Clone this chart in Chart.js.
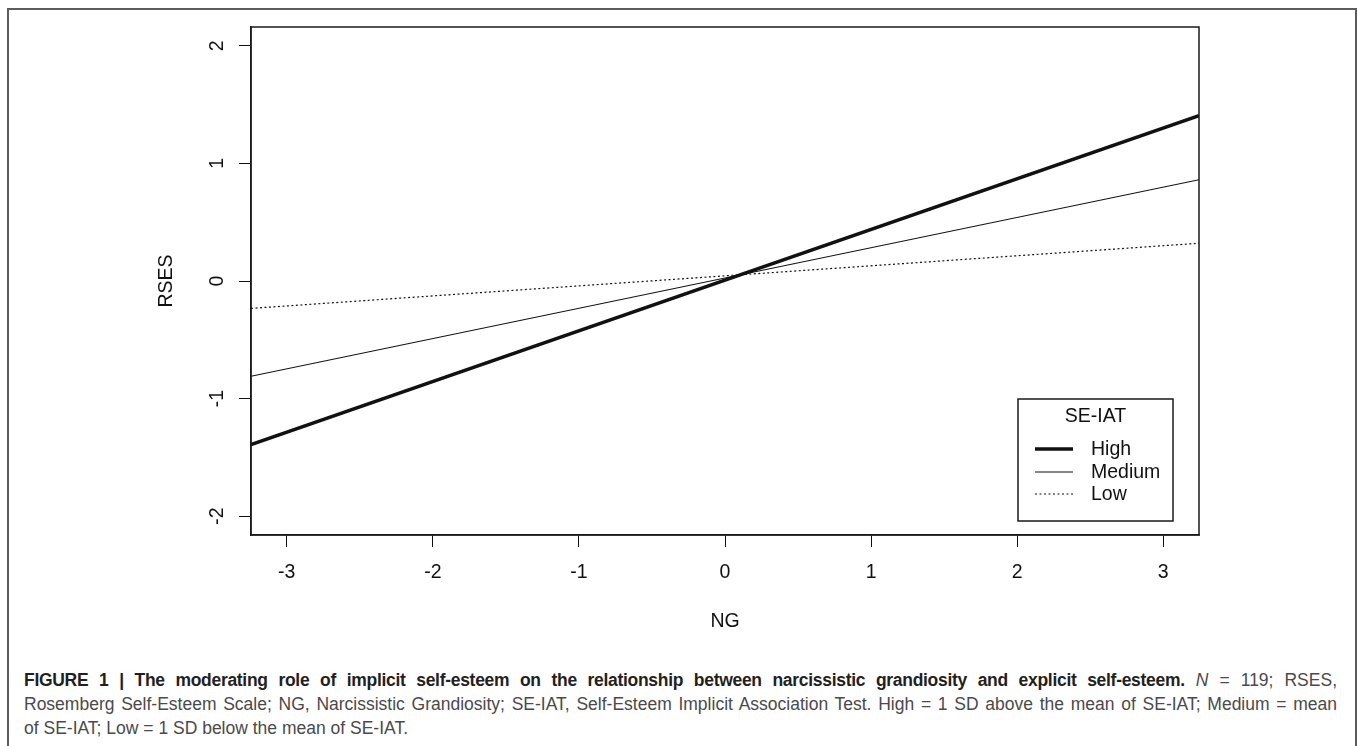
<!DOCTYPE html>
<html>
<head>
<meta charset="utf-8">
<script src="https://cdn.jsdelivr.net/npm/chart.js@4.4.1/dist/chart.umd.min.js"></script>
<style>
  html, body { margin: 0; padding: 0; background: #fff; width: 1358px; height: 746px; overflow: hidden; position: relative; }
  #frame { position: absolute; left: 7px; top: 8px; width: 1346px; height: 800px; border: 2px solid #5c5c5c; border-bottom: none; }
  #chart { position: absolute; left: 0; top: 0; }
  #caption { position: absolute; left: 24px; top: 668px; width: 1313px; font-family: "Liberation Sans", Arial, sans-serif; font-size: 17.5px; line-height: 24px; color: #4a4a4a; }
  #caption div { white-space: nowrap; text-align: justify; text-align-last: justify; }
  #caption div.last { text-align-last: left; }
  #caption b { color: #231f20; letter-spacing: -0.3px; }
</style>
</head>
<body>
<div id="frame"></div>
<canvas id="chart" width="1358" height="650"></canvas>
<div id="caption">
  <div><b>FIGURE 1 | The moderating role of implicit self-esteem on the relationship between narcissistic grandiosity and explicit self-esteem.</b> <i>N</i> = 119; RSES,</div>
  <div>Rosemberg Self-Esteem Scale; NG, Narcissistic Grandiosity; SE-IAT, Self-Esteem Implicit Association Test. High = 1 SD above the mean of SE-IAT; Medium = mean</div>
  <div class="last">of SE-IAT; Low = 1 SD below the mean of SE-IAT.</div>
</div>
<script>
// simple slopes, read at the two edges of the plot
const ngRange = [-3.245, 3.245];
const highRses = [-1.392, 1.407];
const mediumRses = [-0.81, 0.861];
const lowRses = [-0.233, 0.321];
const seriesNames = ["High", "Medium", "Low"];
const xTicks = [-3, -2, -1, 0, 1, 2, 3];
const yTicks = [-2, -1, 0, 1, 2];
const yRange = [-2.16, 2.16];

const FONT = "'Liberation Sans', Arial, sans-serif";
const INK = "#111";

function toPoints (ys) {
  return ngRange.map((x, i) => ({ x, y: ys[i] }));
}

// full box round the plot, like R's bty = "o"
const plotBox = {
  id: "plotBox",
  afterDatasetsDraw (chart) {
    const { ctx, chartArea: a } = chart;
    ctx.save();
    ctx.strokeStyle = "#1a1a1a";
    ctx.lineWidth = 1.5;
    ctx.strokeRect(a.left, a.top, a.right - a.left, a.bottom - a.top);
    ctx.restore();
  }
};

// boxed legend with a title, bottom right of the plot
const boxLegend = {
  id: "boxLegend",
  afterDraw (chart) {
    const { ctx, chartArea: a } = chart;
    const w = 155;
    const h = 122;
    const left = a.right - 26 - w;
    const top = a.bottom - 14 - h;
    ctx.save();
    ctx.fillStyle = "#fff";
    ctx.fillRect(left, top, w, h);
    ctx.strokeStyle = "#1a1a1a";
    ctx.lineWidth = 1.5;
    ctx.strokeRect(left, top, w, h);

    ctx.fillStyle = INK;
    ctx.font = "19.5px " + FONT;
    ctx.textBaseline = "middle";
    ctx.textAlign = "center";
    ctx.fillText("SE-IAT", left + w / 2, top + 18);

    const rows = [50, 73, 95];
    ctx.textAlign = "left";
    chart.data.datasets.forEach((ds, i) => {
      const y = top + rows[i];
      ctx.beginPath();
      ctx.strokeStyle = ds.borderColor;
      ctx.lineWidth = ds.borderWidth;
      ctx.setLineDash(ds.borderDash || []);
      ctx.moveTo(left + 17, y);
      ctx.lineTo(left + 55, y);
      ctx.stroke();
      ctx.setLineDash([]);
      ctx.fillText(ds.label, left + 73, y + 1);
    });
    ctx.restore();
  }
};

new Chart(document.getElementById("chart"), {
  type: "line",
  data: {
    datasets: [
      { label: seriesNames[0], data: toPoints(highRses), borderColor: INK, borderWidth: 3.5 },
      { label: seriesNames[1], data: toPoints(mediumRses), borderColor: INK, borderWidth: 1.1 },
      { label: seriesNames[2], data: toPoints(lowRses), borderColor: INK, borderWidth: 1.2, borderDash: [2, 2.5] }
    ]
  },
  options: {
    responsive: false,
    animation: false,
    events: [],
    elements: { point: { radius: 0 }, line: { tension: 0 } },
    layout: { padding: { left: 0, top: 27, right: 159, bottom: 0 } },
    plugins: {
      legend: { display: false },
      tooltip: { enabled: false }
    },
    scales: {
      x: {
        type: "linear",
        min: ngRange[0],
        max: ngRange[1],
        afterBuildTicks: (scale) => { scale.ticks = xTicks.map((v) => ({ value: v })); },
        afterFit: (scale) => { scale.height = 115; },
        grid: { drawOnChartArea: false, drawTicks: true, tickLength: 12, color: INK, lineWidth: 1 },
        border: { display: true, color: "#1a1a1a", width: 1.5 },
        ticks: { color: INK, font: { family: FONT, size: 19.5 }, padding: 14, maxRotation: 0, autoSkip: false },
        title: { display: true, text: "NG", color: INK, font: { family: FONT, size: 19.5 }, padding: { top: 0, bottom: 17 } }
      },
      y: {
        type: "linear",
        min: yRange[0],
        max: yRange[1],
        afterBuildTicks: (scale) => { scale.ticks = yTicks.map((v) => ({ value: v })); },
        afterFit: (scale) => { scale.width = 251; },
        grid: { drawOnChartArea: false, drawTicks: true, tickLength: 12, color: INK, lineWidth: 1 },
        border: { display: true, color: "#1a1a1a", width: 1.5 },
        ticks: { color: INK, font: { family: FONT, size: 19.5 }, padding: 13, minRotation: 90, maxRotation: 90, crossAlign: "center", autoSkip: false },
        title: { display: true, text: "RSES", color: INK, font: { family: FONT, size: 19.5 }, padding: { top: 155, bottom: 0 } }
      }
    }
  },
  plugins: [plotBox, boxLegend]
});
</script>
</body>
</html>
